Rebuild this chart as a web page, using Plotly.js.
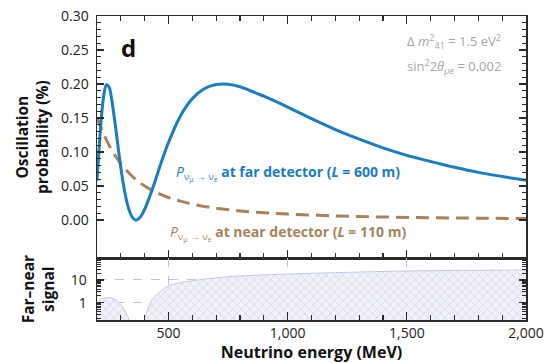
<!DOCTYPE html>
<html>
<head>
<meta charset="utf-8">
<script src="https://cdn.plot.ly/plotly-3.0.1.min.js"></script>
<style>html,body{margin:0;padding:0;background:#fff}#chart{width:545px;height:363px}</style>
</head>
<body>
<div id="chart"></div>
<script>
// Far detector (L = 600 m) oscillation probability (%)
const energyFar = [200,210,220,230,240,250,260,270,280,290,300,310,320,330,340,350,360,370,380,390,400,420,440,460,480,500,550,600,650,700,750,800,900,1000,1100,1200,1300,1400,1500,1600,1700,1800,1900,2000];
const probFar   = [0.058,0.111,0.157,0.187,0.199,0.196,0.181,0.157,0.131,0.103,0.077,0.054,0.035,0.020,0.0096,0.0031,0.0002,0.0006,0.0035,0.0088,0.0156,0.0334,0.0533,0.0747,0.0951,0.114,0.153,0.1785,0.193,0.1992,0.1996,0.196,0.182,0.166,0.149,0.133,0.119,0.106,0.095,0.086,0.0775,0.070,0.064,0.0585];
// Near detector (L = 110 m)
const energyNear = [200,220,240,260,280,300,325,350,375,400,450,500,550,600,700,800,900,1000,1200,1400,1600,1800,2000];
const probNear   = [0.150,0.133,0.1175,0.104,0.0926,0.0827,0.0723,0.0636,0.0562,0.0501,0.0403,0.0331,0.0277,0.0234,0.0174,0.0134,0.0107,0.0087,0.0060,0.0044,0.0034,0.0027,0.0022];
// Far–near signal
const energySignal = [200,215,230,250,270,290,310,325,335,345,385,395,410,430,460,500,550,600,700,800,1000,1200,1500,1750,2000];
const signal       = [1.0,1.4,1.6,1.66,1.5,1.1,0.6,0.3,0.15,0.01,0.01,0.12,0.42,1.3,2.8,5.5,7.6,9.3,12.5,15,18.3,21,25,26.5,27.6];
// Ticks
const xTickVals = [500,1000,1500,2000];
const xTickText = ['500','1,000','1,500','2,000'];
const yTickVals = [0,0.05,0.10,0.15,0.20,0.25,0.30];
const yTickText = ['0.00','0.05','0.10','0.15','0.20','0.25','0.30'];
const yMinorVals = Array.from({length:31},(_,i)=>i/100);
const sigTickVals = [1,10];
const sigTickText = ['1','10'];
const sigMinorVals = [0.2,0.3,0.4,0.5,0.6,0.7,0.8,0.9,2,3,4,5,6,7,8,9,20,30,40,50,60,70,80];

const FONT = '"Open Sans", "Noto Sans", sans-serif';
const blue = '#1a7cc1';
const brown = '#a8835a';
const frame = '#2a2a2a';

const traces = [
  {x: energyNear, y: probNear, type:'scatter', mode:'lines', line:{color:brown, width:3, dash:'13px,7px', shape:'spline'}, xaxis:'x', yaxis:'y', hoverinfo:'skip'},
  {x: energyFar, y: probFar, type:'scatter', mode:'lines', line:{color:blue, width:3, shape:'spline'}, xaxis:'x', yaxis:'y', hoverinfo:'skip'},
  {x: energySignal, y: signal, type:'scatter', mode:'lines', fill:'tozeroy',
   line:{color:'#c6c6e4', width:1, shape:'spline'},
   fillcolor:'#eeeef8',
   fillpattern:{shape:'x', size:6, solidity:0.12, fgcolor:'#b4b4d8', bgcolor:'#f1f1f9'},
   xaxis:'x2', yaxis:'y2', hoverinfo:'skip'}
];

const xCommon = {
  range:[200,2000], tickmode:'array', tickvals:xTickVals, ticktext:xTickText,
  ticks:'inside', ticklen:8, tickwidth:1.3, tickcolor:frame,
  showline:true, linecolor:frame, linewidth:1.5, zeroline:false,
  minor:{tickmode:'linear', tick0:0, dtick:100, ticks:'inside', ticklen:5, tickwidth:1.2, tickcolor:frame, showgrid:false},
  tickfont:{family:FONT, size:14, color:'#222'}
};

const layout = {
  width:545, height:363,
  margin:{l:97, r:19, t:16, b:43},
  paper_bgcolor:'#fff', plot_bgcolor:'#fff',
  showlegend:false,
  font:{family:FONT, color:'#222'},
  xaxis: Object.assign({}, xCommon, {anchor:'y', showticklabels:false, mirror:'ticks', showgrid:false}),
  yaxis: {
    domain:[0.203,1], anchor:'x', range:[-0.0563,0.30],
    tickmode:'array', tickvals:yTickVals, ticktext:yTickText,
    ticks:'inside', ticklen:7, tickwidth:1.3, tickcolor:frame,
    showline:true, linecolor:frame, linewidth:1.5, mirror:'ticks', zeroline:false, showgrid:false,
    minor:{tickmode:'array', tickvals:yMinorVals, ticks:'inside', ticklen:4, tickwidth:1.1, tickcolor:frame, showgrid:false},
    tickfont:{family:FONT, size:14, color:'#222'}, ticklabelstandoff:4,
    title:{text:'<b>Oscillation</b><br><b>probability (%)</b>', font:{family:FONT, size:15.5, color:'#111'}, standoff:8}
  },
  xaxis2: Object.assign({}, xCommon, {anchor:'y2', matches:'x', mirror:true,
    showgrid:true, gridcolor:'#c4c4c4', griddash:'dash', gridwidth:1,
    title:{text:'<b>Neutrino energy (MeV)</b>', font:{family:FONT, size:16, color:'#111'}, standoff:6}}),
  yaxis2: {
    domain:[0,0.203], anchor:'x2', type:'log', range:[-0.762,1.956],
    tickmode:'array', tickvals:sigTickVals, ticktext:sigTickText,
    ticks:'inside', ticklen:7, tickwidth:1.5, tickcolor:frame,
    showline:true, linecolor:frame, linewidth:1.5, mirror:'ticks', zeroline:false,
    showgrid:true, gridcolor:'#c4c4c4', griddash:'dash', gridwidth:1,
    minor:{tickmode:'array', tickvals:sigMinorVals, ticks:'inside', ticklen:4, tickwidth:1, tickcolor:frame, showgrid:false},
    tickfont:{family:FONT, size:14, color:'#222'}, ticklabelstandoff:6,
    title:{text:'<b>Far–near</b><br><b>signal</b>', font:{family:FONT, size:15.5, color:'#111'}, standoff:12}
  },
  annotations:[
    {xref:'x', yref:'y', x:331, y:0.253, text:'<b>d</b>', showarrow:false, font:{family:FONT, size:24, color:'#111'}},
    {xref:'x', yref:'y', x:1905, y:0.262, xanchor:'right', text:'Δ <i>m</i><sup>2</sup><sub>41</sub> = 1.5 eV<sup>2</sup>', showarrow:false, font:{family:FONT, size:13, color:'#a6a6a6'}},
    {xref:'x', yref:'y', x:1905, y:0.226, xanchor:'right', text:'sin<sup>2</sup>2<i>θ</i><sub><i>μe</i></sub> = 0.002', showarrow:false, font:{family:FONT, size:13, color:'#a6a6a6'}},
    {xref:'x', yref:'y', x:525, y:0.069, xanchor:'left', text:'<i>P</i><sub>ν<sub>μ</sub> → ν<sub>e</sub></sub> <b>at far detector (<i>L</i> = 600 m)</b>', showarrow:false, font:{family:FONT, size:14, color:blue}},
    {xref:'x', yref:'y', x:497, y:-0.019, xanchor:'left', text:'<i>P</i><sub>ν<sub>μ</sub> → ν<sub>e</sub></sub> <b>at near detector (<i>L</i> = 110 m)</b>', showarrow:false, font:{family:FONT, size:14, color:brown}}
  ]
};

Plotly.newPlot('chart', traces, layout, {staticPlot:true, displayModeBar:false});
</script>
</body>
</html>
